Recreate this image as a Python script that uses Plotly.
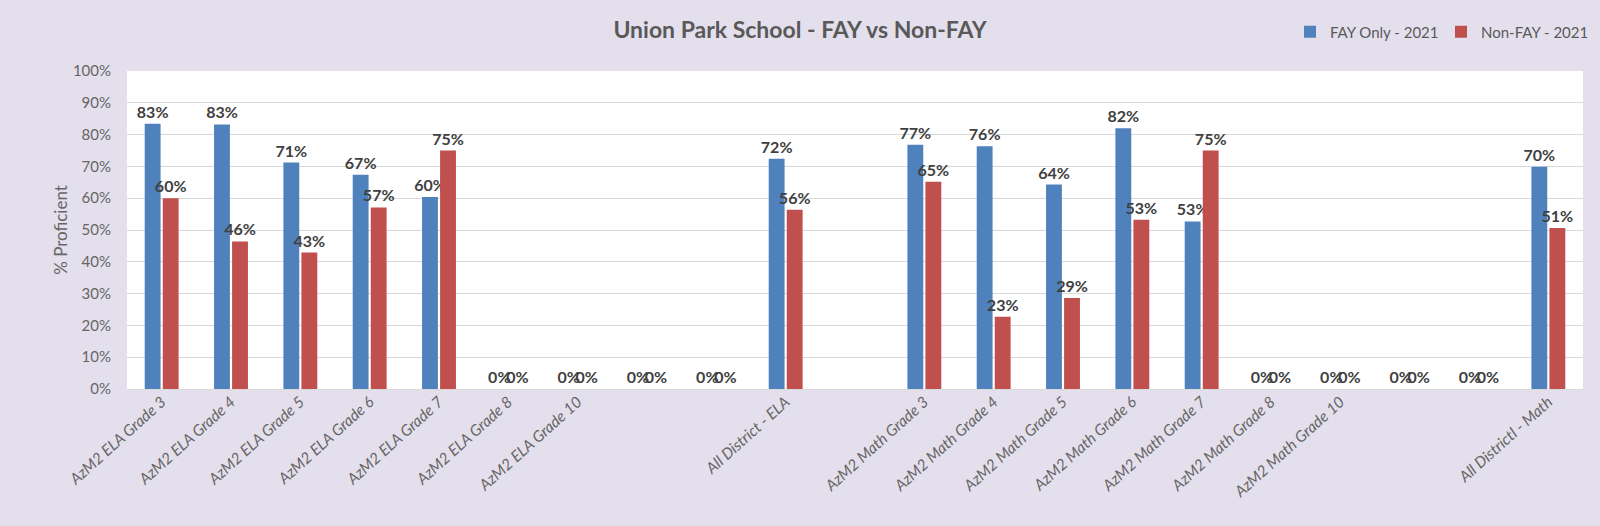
import plotly.graph_objects as go

categories = [
    "AzM2 ELA Grade 3", "AzM2 ELA Grade 4", "AzM2 ELA Grade 5", "AzM2 ELA Grade 6",
    "AzM2 ELA Grade 7", "AzM2 ELA Grade 8", "AzM2 ELA Grade 10", "", "",
    "All District - ELA", "",
    "AzM2 Math Grade 3", "AzM2 Math Grade 4", "AzM2 Math Grade 5", "AzM2 Math Grade 6",
    "AzM2 Math Grade 7", "AzM2 Math Grade 8", "AzM2 Math Grade 10", "", "",
    "All Districtl - Math",
]
fay_only_2021 = [83.4, 83.2, 71.2, 67.4, 60.4, 0, 0, 0, 0, 72.4, None,
                 76.8, 76.3, 64.3, 82.0, 52.7, 0, 0, 0, 0, 69.9]
non_fay_2021 = [60.0, 46.4, 42.9, 57.1, 75.0, 0, 0, 0, 0, 56.4, None,
                65.2, 22.7, 28.6, 53.2, 75.0, 0, 0, 0, 0, 50.6]
series_names = ["FAY Only - 2021", "Non-FAY - 2021"]
y_ticks = list(range(0, 101, 10))

FONT = "Lato, 'Liberation Sans', Arial, sans-serif"
x_idx = list(range(len(categories)))
tickvals = [i for i, c in enumerate(categories) if c]
ticktext = [c for c in categories if c]

fig = go.Figure()
for name, vals, color in [(series_names[0], fay_only_2021, "#4F81BD"),
                          (series_names[1], non_fay_2021, "#C0504D")]:
    fig.add_trace(go.Bar(
        x=x_idx, y=vals, name=name,
        marker=dict(color=color, line=dict(width=0)),
        texttemplate="%{y:.0f}%", textposition="outside",
        textfont=dict(family=FONT, size=16, color="#404040", weight="bold"),
        constraintext="none", cliponaxis=False,
    ))

fig.update_layout(
    width=1600, height=526,
    paper_bgcolor="#E4DFEC", plot_bgcolor="#FFFFFF",
    margin=dict(l=127, r=17, t=71, b=137, autoexpand=False),
    barmode="group", bargap=0.48, bargroupgap=0.12,
    title=dict(text="<b>Union Park School - FAY vs Non-FAY</b>",
               x=0.5, xref="container", xanchor="center",
               y=1 - 30 / 526, yref="container", yanchor="middle",
               font=dict(family=FONT, size=23, color="#595959")),
    legend=dict(orientation="h", xref="container", yref="container",
                x=0.995, xanchor="right", y=1 - 32 / 526, yanchor="middle",
                font=dict(family=FONT, size=15, color="#595959"),
                bgcolor="rgba(0,0,0,0)", itemwidth=30, entrywidth=106,
                traceorder="normal"),
)
fig.update_xaxes(
    range=[-0.5, len(categories) - 0.5],
    tickmode="array", tickvals=tickvals, ticktext=ticktext, tickangle=-42,
    tickfont=dict(family=FONT, size=15.5, color="#666666", style="italic"),
    showgrid=False, zeroline=False, showline=False, ticks="",
)
fig.update_yaxes(
    range=[0, 100], tickmode="array", tickvals=y_ticks,
    ticktext=[f"{v}%" for v in y_ticks],
    tickfont=dict(family=FONT, size=15, color="#666666"),
    showgrid=True, gridcolor="#D9D9D9", gridwidth=1,
    zeroline=True, zerolinecolor="#D9D9D9", zerolinewidth=1,
    ticklabelstandoff=15,
    title=dict(text="% Proficient", standoff=0,
               font=dict(family=FONT, size=17, color="#666666")),
)

fig.write_html("out.html", config={"displayModeBar": False},
               post_script="document.body.style.margin='0';document.body.style.background='#E4DFEC';")
